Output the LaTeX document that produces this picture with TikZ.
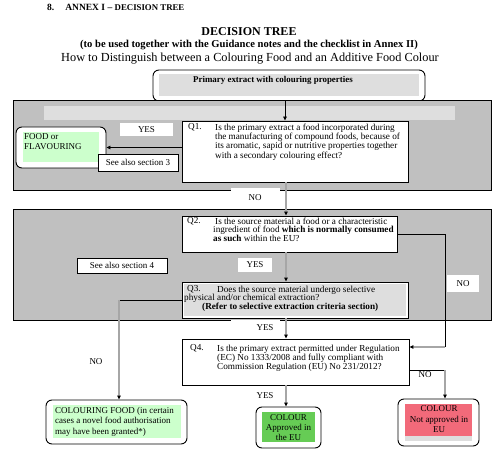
\documentclass[tikz,border=0pt]{standalone}
\usepackage{fontspec}
\setmainfont{Liberation Serif}
\usetikzlibrary{arrows.meta,fit}
\definecolor{panelgray}{HTML}{C0C0C0}
\definecolor{stripgray}{HTML}{DEDEDE}
\definecolor{linkgray}{HTML}{A6A6A6}
\definecolor{foodgreen}{HTML}{CCFFCC}
\definecolor{okgreen}{HTML}{66CC55}
\definecolor{nogored}{HTML}{F26A7A}
\newcommand{\qfont}{\fontsize{9.2}{8}\selectfont}
\newcommand{\rfont}{\fontsize{9}{10.4}\selectfont}
\tikzset{
 panel/.style={draw=black, fill=panelgray, line width=0.9pt},
 qbox/.style={draw=black, fill=white, line width=0.9pt, inner sep=0pt},
 endbox/.style={draw=black, fill=white, line width=0.9pt, rounded corners=6pt, inner sep=0pt},
 seebox/.style={draw=black, fill=white, line width=0.8pt, inner sep=0pt, font=\rfont},
 tag/.style={fill=white, inner sep=0pt},
 lbl/.style={inner sep=0pt, font=\rfont},
 qtxt/.style={inner sep=0pt, font=\qfont, align=left, anchor=north west},
 rtxt/.style={inner sep=0pt, font=\rfont, anchor=north},
 link/.style={draw=black, line width=0.8pt},
 glink/.style={draw=linkgray, line width=1.4pt},
 arrowtip/.style={-{Triangle[length=4pt,width=3.6pt,color=black]}},
}
\begin{document}
\begin{tikzpicture}[x=1pt,y=-1pt]
 \useasboundingbox (0,0) rectangle (503,457);
 % headings
 \node[anchor=base west, inner sep=0pt, font=\bfseries\fontsize{9.5}{10}\selectfont] (annex) at (47,11)
  {8.\hspace{11pt}ANNEX I -- {\fontsize{8.8}{9}\selectfont DECISION TREE}};
 \node[anchor=base, inner sep=0pt, font=\bfseries\fontsize{12}{14}\selectfont] (title) at (249,36) {DECISION TREE};
 \node[anchor=base, inner sep=0pt, font=\bfseries\fontsize{10.6}{12}\selectfont] (subtitle) at (249,48)
  {(to be used together with the Guidance notes and the checklist in Annex II)};
 \node[anchor=base, inner sep=0pt, font=\fontsize{12.3}{14}\selectfont] (howto) at (250,62)
  {How to Distinguish between a Colouring Food and an Additive Food Colour};

 % start box
 \node[endbox, fit={(153,70) (425,101)}] (primary) {};
 \fill[stripgray] (159,74) rectangle (419,96);
 \node[anchor=base west, inner sep=0pt, font=\bfseries\fontsize{8.9}{10}\selectfont] (primarytxt) at (193,82.5)
  {Primary extract with colouring properties};

 % grey panels
 \filldraw[panel] (13,100) rectangle (491,190);
 \fill[stripgray] (44,106) rectangle (455,120);
 \filldraw[panel] (13,209) rectangle (491,320);

 % questions
 \node[qbox, fit={(182,121) (408,182)}] (q1) {};
 \node[qbox, fit={(182,216) (397,252)}] (q2) {};
 \node[qbox, fit={(182,282) (408,318)}] (q3) {};
 \fill[stripgray] (184,284) rectangle (406,316);
 \node[qbox, fit={(182,339) (409,385)}] (q4) {};

 % outcomes
 \node[endbox, fit={(16,127) (106,168)}] (food) {};
 \fill[foodgreen] (23,132) rectangle (99,162);
 \node[endbox, fit={(46,400) (187,444)}] (cfood) {};
 \fill[foodgreen] (53,405) rectangle (181,438);
 \node[endbox, fit={(256,407) (321,448)}] (ok) {};
 \fill[okgreen] (262,412) rectangle (315,442);
 \node[endbox, fit={(398,399) (479,446)}] (notok) {};
 \fill[nogored] (405,404) rectangle (472,436);
 \fill[stripgray] (405,436) rectangle (472,441);

 % answer tags
 \node[tag, minimum width=53pt, minimum height=13pt, font=\rfont] (yes1) at (146.5,129.5) {YES};
 \node[seebox, minimum width=80pt, minimum height=17pt] (see3) at (138,162.5) {See also section 3};
 \node[tag, fit={(231,188) (280,206)}] (no1) {};
 \node[tag, minimum width=34pt, minimum height=14pt, font=\rfont] (yes2) at (255,265) {YES};
 \node[seebox, minimum width=90pt, minimum height=15pt] (see4) at (122,265.5) {See also section 4};
 \node[tag, minimum width=32pt, minimum height=17pt, font=\rfont] (no2) at (463,283.5) {NO};
 \node[tag, fit={(231,319.5) (280,336)}] (yes3) {};

 % connectors
 \coordinate (spine) at (286,0);
 \coordinate (drop) at (119,0);
 \coordinate (turna) at (445,347);
 \coordinate (turnb) at (445,370);
 \draw[link, arrowtip] ([xshift=-4pt]primary.south) -- ([xshift=-4pt]primary.south |- q1.north);
 \draw[link, arrowtip] (q1.west |- food.east) -- (food.east);
 \draw[glink, arrowtip] (spine |- q1.south) -- (spine |- q2.north);
 \draw[glink, arrowtip] (spine |- q2.south) -- (spine |- q3.north);
 \draw[glink, arrowtip] (spine |- q3.south) -- (spine |- q4.north);
 \draw[glink, arrowtip] (spine |- q4.south) -- (spine |- ok.north);
 \draw[link] (q3.west) -- (q3.west -| drop);
 \draw[glink, arrowtip] (q3.west -| drop) -- (drop |- cfood.north);
 \draw[link] (q2.east) -| (turna);
 \draw[glink, arrowtip] (turna) -- (turna -| q4.east);
 \draw[link] (turnb -| q4.east) -- (turnb);
 \draw[glink, arrowtip] (turnb) -- (turnb |- notok.north);

 % question texts
 \node[qtxt] (q1n) at (188,123.4) {Q1.};
 \node[qtxt] (q1t) at (215,123.4) {Is the primary extract a food incorporated during\\
  the manufacturing of compound foods, because of\\
  its aromatic, sapid or nutritive properties together\\
  with a secondary colouring effect?};
 \node[qtxt] (q2n) at (187,217.6) {Q2.};
 \node[qtxt] (q2t) at (213,217.6) {\hspace{2pt}Is the source material a food or a characteristic\\
  ingredient of food \textbf{which is normally consumed}\\
  \textbf{as such} within the EU?};
 \node[qtxt] (q3n) at (187,285.5) {Q3.};
 \node[qtxt] (q3t) at (217,285.5) {Does the source material undergo selective};
 \node[qtxt] (q3u) at (184,293.5) {physical and/or chemical extraction?};
 \node[qtxt, font=\qfont\bfseries] (q3v) at (202,303.2) {(Refer to selective extraction criteria section)};
 \node[qtxt] (q4n) at (190,344.5) {Q4.};
 \node[qtxt] (q4t) at (217,344.5) {Is the primary extract permitted under Regulation\\
  (EC) No 1333/2008 and fully compliant with\\
  Commission Regulation (EU) No 231/2012?};

 % answer and outcome texts
 \node[lbl] (no1t) at (255,198) {NO};
 \node[lbl] (yes3t) at (265,328) {YES};
 \node[lbl] (no3t) at (96,362) {NO};
 \node[lbl] (yes4t) at (265,396) {YES};
 \node[lbl] (no4t) at (425,375) {NO};
 \node[rtxt, anchor=north west, align=left] (foodt) at (24,133) {FOOD or\\FLAVOURING};
 \node[rtxt, anchor=north west, align=left] (cfoodt) at (55,407)
  {COLOURING FOOD (in certain\\cases a novel food authorisation\\may have been granted*)};
 \node[rtxt, align=center] (okt) at (288.5,414) {COLOUR\\Approved in\\the EU};
 \node[rtxt, align=center] (notokt) at (439,405.5) {COLOUR\\Not approved in\\EU};
\end{tikzpicture}
\end{document}
